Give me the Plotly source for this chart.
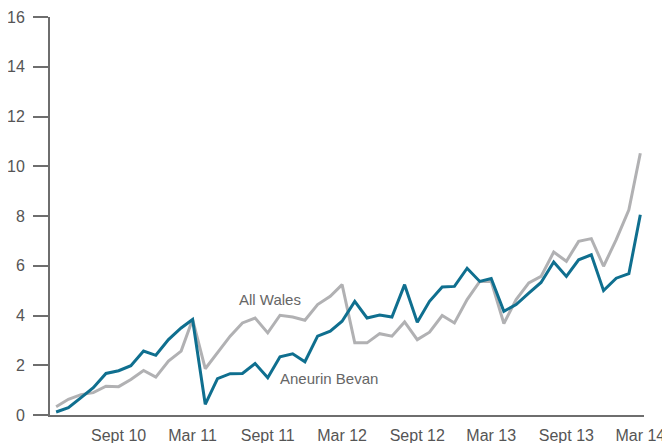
import plotly.graph_objects as go
import pandas as pd

months = pd.date_range("2010-04-01", "2014-03-01", freq="MS")

aneurin_bevan = [0.12, 0.29, 0.70, 1.10, 1.67, 1.78, 1.98, 2.57, 2.40, 3.03,
                 3.50, 3.84, 0.43, 1.46, 1.66, 1.67, 2.07, 1.50, 2.34, 2.46,
                 2.14, 3.17, 3.37, 3.77, 4.57, 3.90, 4.02, 3.94, 5.24, 3.73,
                 4.57, 5.15, 5.17, 5.90, 5.37, 5.49, 4.17, 4.44, 4.90, 5.33,
                 6.15, 5.57, 6.24, 6.44, 5.00, 5.50, 5.68, 8.05]

all_wales = [0.33, 0.63, 0.82, 0.90, 1.16, 1.14, 1.43, 1.79, 1.52, 2.17,
             2.57, 3.84, 1.86, 2.50, 3.17, 3.70, 3.90, 3.30, 4.01, 3.94,
             3.81, 4.44, 4.77, 5.24, 2.90, 2.90, 3.27, 3.17, 3.74, 3.03,
             3.33, 4.00, 3.70, 4.64, 5.37, 5.37, 3.68, 4.64, 5.31, 5.57,
             6.55, 6.18, 6.98, 7.09, 5.98, 7.05, 8.25, 10.52]

tick_dates = ["2010-09-01", "2011-03-01", "2011-09-01", "2012-03-01",
              "2012-09-01", "2013-03-01", "2013-09-01", "2014-03-01"]
tick_labels = ["Sept 10", "Mar 11", "Sept 11", "Mar 12",
               "Sept 12", "Mar 13", "Sept 13", "Mar 14"]

y_ticks = [0, 2, 4, 6, 8, 10, 12, 14, 16]

fig = go.Figure()
fig.add_trace(go.Scatter(x=months, y=all_wales, mode="lines", name="All Wales",
                         line=dict(color="#b1b1b3", width=3)))
fig.add_trace(go.Scatter(x=months, y=aneurin_bevan, mode="lines", name="Aneurin Bevan",
                         line=dict(color="#0f6f8f", width=3)))

fig.add_annotation(x="2011-09-07", y=4.66, text="All Wales", showarrow=False,
                   font=dict(size=15, color="#666666"))
fig.add_annotation(x="2012-01-28", y=1.45, text="Aneurin Bevan", showarrow=False,
                   font=dict(size=15, color="#666666"))

# page body has an 8px default margin, so the figure is sized/offset to compensate
fig.update_layout(
    width=662, height=435,
    margin=dict(l=42, r=26, t=9, b=28, autoexpand=False),
    paper_bgcolor="white", plot_bgcolor="white",
    showlegend=False,
    font=dict(family="Liberation Sans, Arial, sans-serif", size=16, color="#555555"),
)
fig.update_xaxes(
    range=["2010-03-17", "2014-03-10"],
    tickvals=tick_dates, ticktext=tick_labels,
    showgrid=False, zeroline=False, automargin=False,
    showline=True, linecolor="#6e6e6e", linewidth=2,
    ticks="outside", ticklen=5, tickcolor="rgba(0,0,0,0)",
)
fig.update_yaxes(
    range=[0, 16], tickvals=y_ticks,
    showgrid=False, zeroline=False, automargin=False,
    showline=True, linecolor="#6e6e6e", linewidth=2,
    ticks="outside", ticklen=15, tickwidth=2, tickcolor="#6e6e6e",
    ticklabelstandoff=5,
)

fig.write_html("out.html")
